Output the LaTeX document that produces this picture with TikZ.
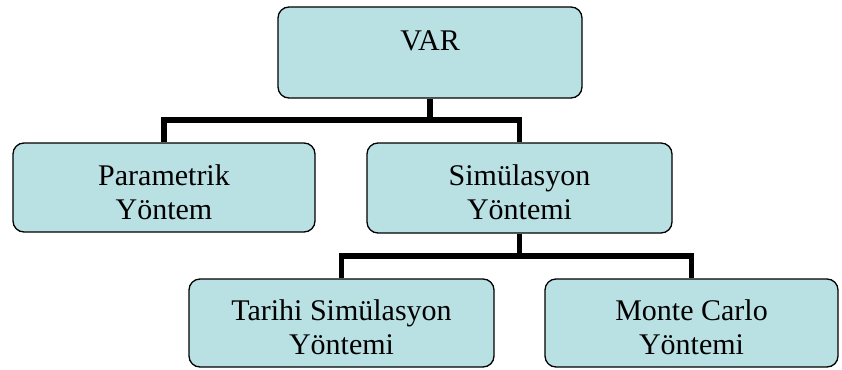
\documentclass[tikz,border=0pt]{standalone}
\usepackage{fontspec}
\setmainfont{Liberation Serif}
\definecolor{boxfill}{HTML}{B9E0E3}
\begin{document}
\begin{tikzpicture}[x=1pt,y=-1pt,
  orgbox/.style={draw=black, line width=1.3pt, fill=boxfill, rounded corners=11pt,
    inner sep=0pt},
  txt/.style={anchor=base, inner sep=0pt, font=\fontsize{30}{34}\selectfont},
  link/.style={line width=5.5pt, line join=miter}]
\useasboundingbox (0,0) rectangle (842,369);
% boxes
\node[orgbox, minimum width=304pt, minimum height=91pt] (var) at (430,52.5) {};
\node[orgbox, minimum width=302pt, minimum height=89pt] (par) at (164,187.5) {};
\node[orgbox, minimum width=305pt, minimum height=90pt] (sim) at (519.5,188) {};
\node[orgbox, minimum width=305pt, minimum height=88pt] (tar) at (341.5,323) {};
\node[orgbox, minimum width=293pt, minimum height=88pt] (mc) at (691.5,323) {};
% labels, one node per line, placed on their baselines
\node[txt] (varT) at (430,50) {VAR};
\node[txt] (parT1) at (164,185) {Parametrik};
\node[txt] (parT2) at (164,219) {Yöntem};
\node[txt] (simT1) at (519.5,185) {Simülasyon};
\node[txt] (simT2) at (519.5,219) {Yöntemi};
\node[txt] (tarT1) at (341.5,320) {Tarihi Simülasyon};
\node[txt] (tarT2) at (341.5,354) {Yöntemi};
\node[txt] (mcT1) at (691.5,320) {Monte Carlo};
\node[txt] (mcT2) at (691.5,354) {Yöntemi};
% connector junctions
\coordinate (busA) at (var.south |- 0,120);
\coordinate (busB) at (sim.south |- 0,256);
% connectors
\draw[link] (var.south) -- (busA);
\draw[link] (par.north) |- (busA) -| (sim.north);
\draw[link] (sim.south) -- (busB);
\draw[link] (tar.north) |- (busB) -| (mc.north);
\end{tikzpicture}
\end{document}
